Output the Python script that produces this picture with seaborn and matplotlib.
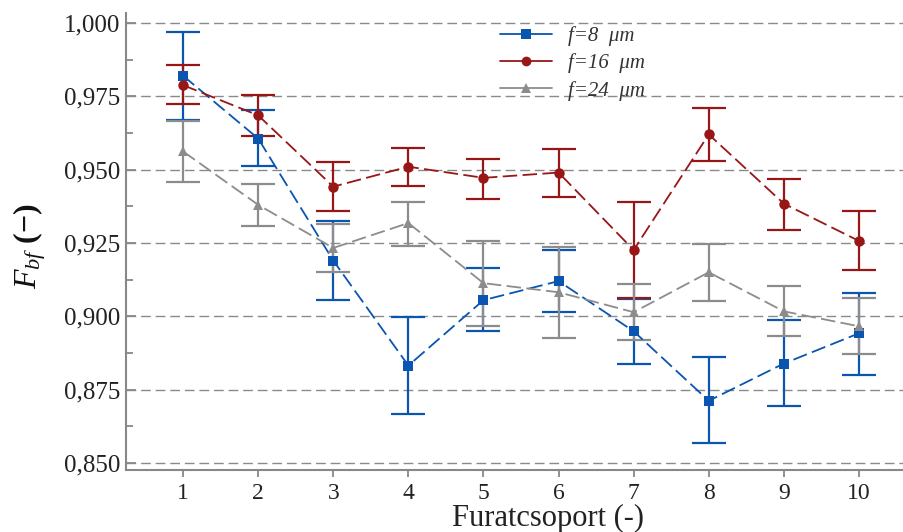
import numpy as np
import pandas as pd
import matplotlib
matplotlib.use('Agg')
import matplotlib.pyplot as plt
from matplotlib.lines import Line2D
from matplotlib.ticker import FuncFormatter, MultipleLocator
import seaborn as sns

# data
groups = [1, 2, 3, 4, 5, 6, 7, 8, 9, 10]
labels = ['f=8  μm', 'f=16  μm', 'f=24  μm']

f8_mean = [0.9820, 0.9606, 0.9190, 0.8832, 0.9055, 0.9120, 0.8949, 0.8712, 0.8839, 0.8942]
f8_hi = [0.9969, 0.9702, 0.9325, 0.8997, 0.9164, 0.9226, 0.9060, 0.8860, 0.8986, 0.9079]
f8_lo = [0.9668, 0.9514, 0.9055, 0.8668, 0.8949, 0.9014, 0.8839, 0.8568, 0.8695, 0.8801]

f16_mean = [0.9788, 0.9685, 0.9442, 0.9510, 0.9472, 0.9490, 0.9226, 0.9620, 0.9384, 0.9257]
f16_hi = [0.9856, 0.9753, 0.9527, 0.9575, 0.9537, 0.9572, 0.9390, 0.9709, 0.9469, 0.9360]
f16_lo = [0.9723, 0.9613, 0.9360, 0.9445, 0.9401, 0.9408, 0.9062, 0.9531, 0.9295, 0.9158]

f24_mean = [0.9562, 0.9380, 0.9233, 0.9318, 0.9113, 0.9082, 0.9014, 0.9150, 0.9017, 0.8966]
f24_hi = [0.9665, 0.9452, 0.9315, 0.9390, 0.9257, 0.9235, 0.9110, 0.9247, 0.9103, 0.9062]
f24_lo = [0.9459, 0.9308, 0.9150, 0.9240, 0.8966, 0.8925, 0.8918, 0.9051, 0.8932, 0.8870]

colors = ['#0a55af', '#981616', '#8c8c8c']
markers = ['s', 'o', '^']
msizes = [7, 7.5, 7]

sns.set_style('ticks')
plt.rcParams['font.family'] = ['Liberation Serif', 'DejaVu Serif']
plt.rcParams['mathtext.fontset'] = 'custom'
plt.rcParams['mathtext.rm'] = 'Liberation Serif'
plt.rcParams['mathtext.it'] = 'Liberation Serif:italic'
plt.rcParams['mathtext.bf'] = 'Liberation Serif:bold'

df = pd.DataFrame({
    'group': groups * 3,
    'value': f8_mean + f16_mean + f24_mean,
    'series': [labels[0]] * 10 + [labels[1]] * 10 + [labels[2]] * 10,
})

fig = plt.figure(figsize=(9.04, 5.32), dpi=100)
ax = fig.add_axes([0.1394, 0.1165, 0.8595, 0.8591])

means = [f8_mean, f16_mean, f24_mean]
his = [f8_hi, f16_hi, f24_hi]
los = [f8_lo, f16_lo, f24_lo]

# error bars first
for m, h, l, c in zip(means, his, los, colors):
    m = np.array(m)
    yerr = [m - np.array(l), np.array(h) - m]
    ax.errorbar(groups, m, yerr=yerr, fmt='none', ecolor=c, elinewidth=1.6,
                capsize=12, capthick=1.6, zorder=2)

for lab, c, mk, ms in zip(labels, colors, markers, msizes):
    sub = df[df['series'] == lab]
    sns.lineplot(data=sub, x='group', y='value', ax=ax, color=c, marker=mk,
                 markersize=ms, markeredgewidth=0, linewidth=1.3,
                 legend=False, zorder=3)
    ax.lines[-1].set_dashes((8, 3))

ax.set_xlim(0.24, 10.587)
ax.set_ylim(0.8476, 1.0034)
ax.set_xticks(groups)
ax.yaxis.set_major_locator(MultipleLocator(0.025))
ax.yaxis.set_minor_locator(MultipleLocator(0.0125))
ax.yaxis.set_major_formatter(FuncFormatter(lambda v, p: f'{v:.3f}'.replace('.', ',')))

for y in np.arange(0.85, 1.0001, 0.025):
    ax.axhline(y, color='#8a8a8a', linewidth=1.0, dashes=(7, 3.5), zorder=1)

for s in ['top', 'right']:
    ax.spines[s].set_visible(False)
for s in ['left', 'bottom']:
    ax.spines[s].set_color('#888888')
    ax.spines[s].set_linewidth(1.5)

ax.tick_params(axis='y', which='major', direction='in', length=7, width=1.3,
               color='#888888', labelsize=18, pad=4)
ax.tick_params(axis='y', which='minor', direction='in', length=5, width=1.3,
               color='#888888')
ax.tick_params(axis='x', direction='out', length=5, width=1.3,
               color='#888888', labelsize=17, pad=4)
for t in ax.get_xticklabels() + ax.get_yticklabels():
    t.set_color('#222222')

ax.set_xlabel('Furatcsoport (-)', fontsize=22, color='#222222')
ax.xaxis.set_label_coords(0.543, -0.075)
ax.set_ylabel(r'$F_{bf}$ $\mathbf{(-)}$', fontsize=23, color='#111111')
ax.yaxis.set_label_coords(-0.1, 0.49)

handles = [Line2D([], [], color=c, marker=mk, markersize=ms - 0.5, markeredgewidth=0,
                  linewidth=1.3) for c, mk, ms in zip(colors, markers, msizes)]
leg = ax.legend(handles, labels, loc='upper left', bbox_to_anchor=(0.457, 1.012),
                frameon=False, handlelength=2.5, handletextpad=0.75,
                labelspacing=0.35, prop={'style': 'italic', 'size': 15})
for t in leg.get_texts():
    t.set_color('#333333')

fig.savefig('out.png', dpi=100)
